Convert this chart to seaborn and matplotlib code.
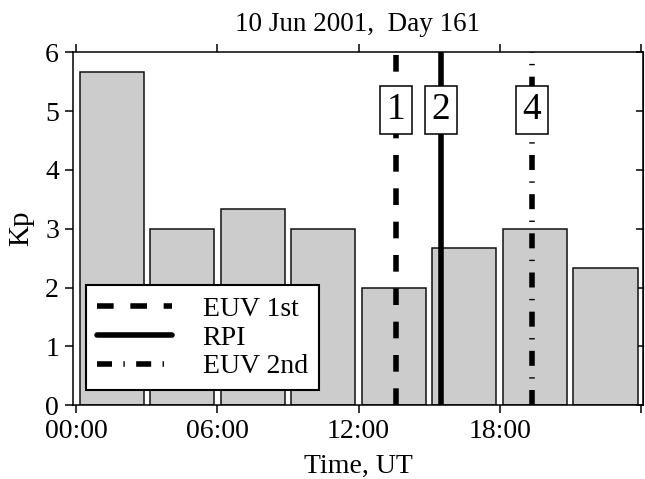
import matplotlib
matplotlib.use("Agg")
import matplotlib.pyplot as plt
import seaborn as sns
import numpy as np
import pandas as pd

# Data
interval_start_h = [0, 3, 6, 9, 12, 15, 18, 21]
kp_values = [5.67, 3.0, 3.33, 3.0, 2.0, 2.67, 3.0, 2.33]
event_names = ["EUV 1st", "RPI", "EUV 2nd"]
event_times_h = [13.6, 15.5, 19.37]
box_labels = ["1", "2", "4"]
box_times_h = [13.6, 15.5, 19.37]
tick_hours = [0, 6, 12, 18, 24]
tick_labels = ["00:00", "06:00", "12:00", "18:00", ""]
title = "10 Jun 2001,  Day 161"

sns.set_style("ticks")
plt.rcParams['font.family'] = ['Liberation Serif', 'DejaVu Serif']
for k in ["text.color", "axes.labelcolor", "xtick.color", "ytick.color", "axes.edgecolor"]:
    plt.rcParams[k] = "black"

fig = plt.figure(figsize=(6.45, 4.79), dpi=100)
ax = fig.add_axes([0.113, 0.154, 0.884, 0.737])

df = pd.DataFrame({"t": [s + 1.5 for s in interval_start_h], "kp": kp_values})
sns.barplot(data=df, x="t", y="kp", native_scale=True, width=0.91,
            color="#cccccc", edgecolor="#111111", linewidth=1.1,
            saturation=1, ax=ax, zorder=2)

styles = [(0, (3.0, 3.0)), "-", (0, (2.7, 2.05, 0.25, 2.05))]
for name, t, ls in zip(event_names, event_times_h, styles):
    ax.axvline(t, color="black", lw=4, ls=ls, label=name, zorder=3,
               dash_capstyle="butt")

for lab, t in zip(box_labels, box_times_h):
    ax.text(t, 5.02, lab, ha="center", va="center", fontsize=27, zorder=5,
            bbox=dict(boxstyle="square,pad=0.18", fc="white", ec="black", lw=1.1))

ax.set_xlim(-0.15, 24.1)
ax.set_ylim(0, 6)
ax.set_xticks(tick_hours)
ax.set_xticklabels(tick_labels)
ax.set_yticks(range(0, 7))
ax.tick_params(axis="both", direction="out", length=6, width=1.1, labelsize=20,
               top=True, pad=4)
for s in ax.spines.values():
    s.set_linewidth(1.1)
    s.set_visible(True)
sec = ax.secondary_yaxis("right")
sec.set_yticks(range(0, 7))
sec.tick_params(direction="in", length=5, width=1.1, labelright=False)

ax.set_xlabel("Time, UT", fontsize=20, labelpad=7)
ax.set_ylabel("Kp", fontsize=21, labelpad=8)
ax.set_title(title, fontsize=19.5, pad=15)

leg = ax.legend(loc="lower left", bbox_to_anchor=(0.023, 0.042), borderaxespad=0,
                fontsize=20, handlelength=2.7, fancybox=False, framealpha=1,
                edgecolor="black", borderpad=0.4, labelspacing=0.12, handletextpad=1.1)
leg.get_frame().set_linewidth(1.5)
leg.set_zorder(6)

fig.savefig("out.png", dpi=100)
